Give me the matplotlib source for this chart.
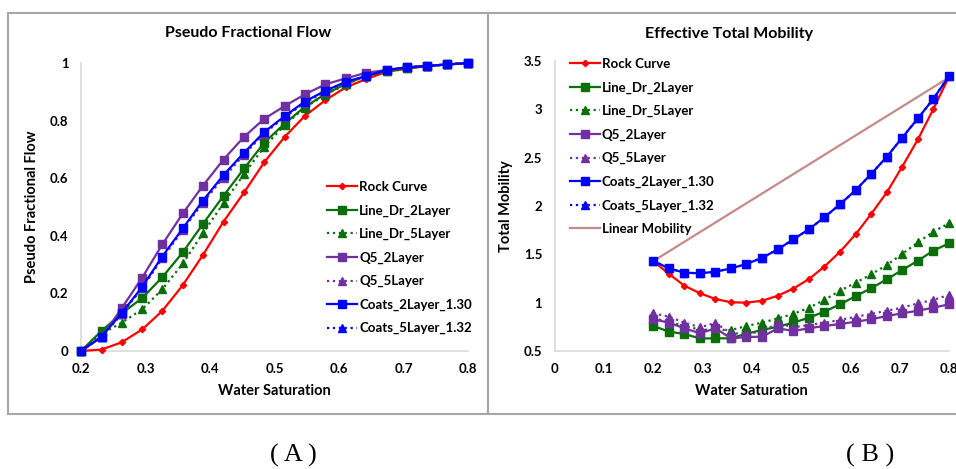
import matplotlib
matplotlib.use("Agg")
import matplotlib.pyplot as plt
from matplotlib.patches import Rectangle

plt.rcParams['font.family'] = ['Lato', 'DejaVu Sans']
plt.rcParams['font.weight'] = 'bold'

# Water saturation sample points (shared by both panels)
SW = [0.2, 0.232, 0.263, 0.295, 0.326, 0.358, 0.389, 0.421, 0.453, 0.484,
      0.516, 0.547, 0.579, 0.611, 0.642, 0.674, 0.705, 0.737, 0.768, 0.8]

# Panel A: pseudo fractional flow
ff_rock = [0.0, 0.005, 0.03, 0.075, 0.139, 0.229, 0.333, 0.449, 0.551, 0.655,
           0.744, 0.816, 0.871, 0.916, 0.944, 0.97, 0.98, 0.99, 0.995, 1.0]
ff_line2 = [0.0, 0.07, 0.13, 0.184, 0.256, 0.343, 0.441, 0.539, 0.634, 0.723,
            0.79, 0.848, 0.892, 0.928, 0.955, 0.972, 0.982, 0.99, 0.995, 1.0]
ff_line5 = [0.0, 0.06, 0.098, 0.145, 0.214, 0.304, 0.409, 0.513, 0.615, 0.709,
            0.785, 0.845, 0.89, 0.926, 0.955, 0.972, 0.982, 0.99, 0.995, 1.0]
ff_q52 = [0.0, 0.048, 0.148, 0.255, 0.37, 0.478, 0.574, 0.665, 0.744, 0.806,
          0.851, 0.891, 0.926, 0.947, 0.966, 0.976, 0.985, 0.99, 0.995, 1.0]
ff_q55 = [0.0, 0.05, 0.128, 0.218, 0.322, 0.42, 0.515, 0.602, 0.682, 0.755,
          0.812, 0.862, 0.9, 0.933, 0.954, 0.975, 0.985, 0.99, 0.995, 1.0]
ff_coats2 = [0.0, 0.05, 0.131, 0.223, 0.328, 0.426, 0.522, 0.611, 0.689, 0.76,
             0.816, 0.866, 0.904, 0.935, 0.955, 0.976, 0.985, 0.99, 0.995, 1.0]
ff_coats5 = [0.0, 0.05, 0.13, 0.22, 0.325, 0.423, 0.519, 0.608, 0.686, 0.758,
             0.814, 0.864, 0.903, 0.934, 0.955, 0.976, 0.985, 0.99, 0.995, 1.0]

# Panel B: effective total mobility
mob_rock = [1.43, 1.297, 1.176, 1.097, 1.038, 1.004, 1.0, 1.02, 1.072, 1.145,
            1.245, 1.372, 1.527, 1.71, 1.917, 2.142, 2.407, 2.69, 3.0, 3.338]
mob_line2 = [0.759, 0.70, 0.676, 0.63, 0.631, 0.631, 0.68, 0.717, 0.752, 0.793,
             0.845, 0.907, 0.983, 1.069, 1.149, 1.242, 1.338, 1.434, 1.538, 1.614]
mob_line5 = [0.84, 0.80, 0.76, 0.72, 0.72, 0.717, 0.759, 0.793, 0.838, 0.883,
             0.948, 1.028, 1.124, 1.207, 1.293, 1.39, 1.504, 1.624, 1.734, 1.821]
mob_q52 = [0.828, 0.793, 0.735, 0.683, 0.735, 0.63, 0.645, 0.648, 0.735, 0.707,
           0.735, 0.759, 0.779, 0.803, 0.828, 0.862, 0.89, 0.917, 0.948, 0.983]
mob_q55 = [0.89, 0.855, 0.793, 0.745, 0.79, 0.683, 0.68, 0.70, 0.79, 0.745,
           0.769, 0.793, 0.821, 0.855, 0.883, 0.917, 0.948, 0.993, 1.028, 1.08]
mob_coats2 = [1.431, 1.355, 1.31, 1.304, 1.32, 1.355, 1.40, 1.465, 1.552, 1.655,
              1.76, 1.883, 2.018, 2.166, 2.331, 2.51, 2.707, 2.907, 3.107, 3.345]
mob_coats5 = mob_coats2
lin_sw = [0.2, 0.8]
lin_mob = [1.43, 3.33]

LABELS = ["Rock Curve", "Line_Dr_2Layer", "Line_Dr_5Layer", "Q5_2Layer",
          "Q5_5Layer", "Coats_2Layer_1.30", "Coats_5Layer_1.32"]

RED, GREEN, PURPLE, BLUE, ROSE = "#FF0000", "#0A6E0A", "#7030A0", "#0000FF", "#C48A8A"
STYLES = [
    dict(color=RED, ls="-", marker="D", ms=3.2),
    dict(color=GREEN, ls="-", marker="s", ms=6),
    dict(color=GREEN, ls=":", marker="^", ms=5.5),
    dict(color=PURPLE, ls="-", marker="s", ms=6),
    dict(color=PURPLE, ls=":", marker="^", ms=5.5),
    dict(color=BLUE, ls="-", marker="s", ms=6),
    dict(color=BLUE, ls=":", marker="^", ms=5.5),
]
ZORD = [3, 3, 3, 3, 3, 4, 2]
LEG = dict(loc="upper left", frameon=False, numpoints=1, handlelength=2.3,
           handletextpad=0.15, labelspacing=0.86, borderaxespad=0, borderpad=0,
           prop={"weight": "bold", "size": 9.5})


def style_axes(ax):
    for s in ("top", "right"):
        ax.spines[s].set_visible(False)
    for s in ("left", "bottom"):
        ax.spines[s].set_color("#D9D9D9")
        ax.spines[s].set_linewidth(1.2)
    ax.tick_params(length=0, labelsize=9.5, pad=9)
    for lab in ax.get_xticklabels() + ax.get_yticklabels():
        lab.set_fontweight("bold")


fig = plt.figure(figsize=(9.56, 4.69), dpi=100)

# panel frames
fig.patches.append(Rectangle((8 / 956, 1 - 414 / 469), 480 / 956, 401 / 469,
                             transform=fig.transFigure, fill=False,
                             edgecolor="#A6A6A6", lw=1.5))
fig.patches.append(Rectangle((488 / 956, 1 - 414 / 469), 470 / 956, 401 / 469,
                             transform=fig.transFigure, fill=False,
                             edgecolor="#A6A6A6", lw=1.5))

# ---- Panel A ----
ax1 = fig.add_axes([0.0847, 0.2516, 0.4048, 0.614])
series_a = [ff_rock, ff_line2, ff_line5, ff_q52, ff_q55, ff_coats2, ff_coats5]
for ys, lab, st, z in zip(series_a, LABELS, STYLES, ZORD):
    ax1.plot(SW, ys, label=lab, lw=1.6, color=st["color"], ls=st["ls"],
             marker=st["marker"], markersize=st["ms"], zorder=z, clip_on=False)
ax1.set_xlim(0.2, 0.8)
ax1.set_ylim(0, 1)
ax1.set_xticks([0.2, 0.3, 0.4, 0.5, 0.6, 0.7, 0.8])
ax1.set_xticklabels(["0.2", "0.3", "0.4", "0.5", "0.6", "0.7", "0.8"])
ax1.set_yticks([0, 0.2, 0.4, 0.6, 0.8, 1])
ax1.set_yticklabels(["0", "0.2", "0.4", "0.6", "0.8", "1"])
style_axes(ax1)
ax1.set_xlabel("Water Saturation", fontsize=10.5, fontweight="bold", labelpad=6)
ax1.set_ylabel("Pseudo Fractional Flow", fontsize=10.5, fontweight="bold", labelpad=8)
fig.text(248 / 956, 1 - 33 / 469, "Pseudo Fractional Flow", ha="center",
         va="center", fontsize=11.5, fontweight="bold")
ax1.legend(bbox_to_anchor=(0.635, 0.59), **LEG)

# ---- Panel B ----
ax2 = fig.add_axes([0.5802, 0.2516, 0.4125, 0.6183])
series_b = [mob_rock, mob_line2, mob_line5, mob_q52, mob_q55, mob_coats2, mob_coats5]
for ys, lab, st, z in zip(series_b, LABELS, STYLES, ZORD):
    ax2.plot(SW, ys, label=lab, lw=1.6, color=st["color"], ls=st["ls"],
             marker=st["marker"], markersize=st["ms"], zorder=z, clip_on=False)
ax2.plot(lin_sw, lin_mob, color=ROSE, lw=1.6, label="Linear Mobility", zorder=2)
ax2.set_xlim(0, 0.8)
ax2.set_ylim(0.5, 3.5)
ax2.set_xticks([0, 0.1, 0.2, 0.3, 0.4, 0.5, 0.6, 0.7, 0.8])
ax2.set_xticklabels(["0", "0.1", "0.2", "0.3", "0.4", "0.5", "0.6", "0.7", "0.8"])
ax2.set_yticks([0.5, 1, 1.5, 2, 2.5, 3, 3.5])
ax2.set_yticklabels(["0.5", "1", "1.5", "2", "2.5", "3", "3.5"])
style_axes(ax2)
ax2.set_xlabel("Water Saturation", fontsize=10.5, fontweight="bold", labelpad=6)
ax2.set_ylabel("Total Mobility", fontsize=10.5, fontweight="bold", labelpad=8)
fig.text(729 / 956, 1 - 34 / 469, "Effective Total Mobility", ha="center",
         va="center", fontsize=11.5, fontweight="bold")
ax2.legend(bbox_to_anchor=(0.038, 1.01), **LEG)

# captions
for cx, txt in ((293, "( A )"), (870, "( B )")):
    fig.text(cx / 956, 1 - 455 / 469, txt, ha="center", va="center",
             fontsize=19, family=["Liberation Serif", "DejaVu Serif"],
             fontweight="normal")

fig.savefig("out.png", dpi=100)
